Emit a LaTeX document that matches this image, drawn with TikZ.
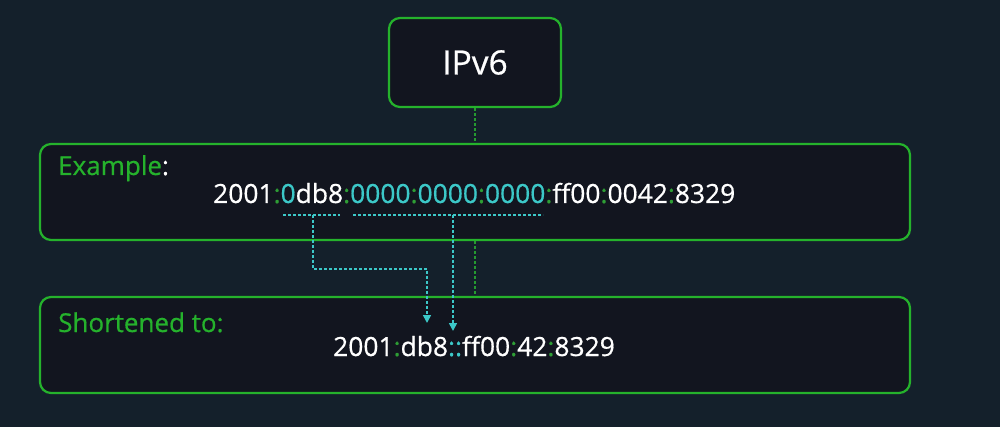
\documentclass[tikz,border=0pt]{standalone}
\usepackage{fontspec}
\setmainfont[FakeBold=0.6]{Open Sans}
\usetikzlibrary{arrows.meta}
\definecolor{bg}{HTML}{14202B}
\definecolor{boxfill}{HTML}{12151F}
\definecolor{grn}{HTML}{25B22C}
\definecolor{cyn}{HTML}{3CC8C8}
\definecolor{colgrn}{HTML}{2E9E35}
\definecolor{linkgrn}{HTML}{259A30}
\newcommand{\gc}{\textcolor{colgrn}{:}}
\newcommand{\cy}[1]{\textcolor{cyn}{#1}}
\begin{document}
\begin{tikzpicture}[x=1pt,y=-1pt,
  box/.style={draw=grn, line width=2.2pt, fill=boxfill, rounded corners=11pt, inner sep=0pt},
  lbl/.style={text=grn, anchor=base west, inner sep=0pt, font=\fontsize{26}{30}\selectfont},
  addr/.style={text=white, anchor=base west, inner sep=0pt, font=\fontsize{26.4}{30}\selectfont},
  link/.style={draw=linkgrn, line width=1.6pt, dash pattern=on 3pt off 2pt},
  cyline/.style={draw=cyn, line width=1.6pt, dash pattern=on 3pt off 2pt},
  arr/.style={cyline, -{Triangle[length=8pt,width=8pt]}}]
\fill[bg] (0,0) rectangle (1000,427);
\node[box, minimum width=172pt, minimum height=89pt, text=white,
  font=\fontsize{33.5}{36}\selectfont] (ipv6) at (475,62.5) {IPv6};
\node[box, minimum width=870pt, minimum height=96pt] (ex) at (475,192) {};
\node[box, minimum width=870pt, minimum height=96pt] (sh) at (475,345) {};
\draw[link] (ipv6.south) -- (ex.north);
\draw[link] (ex.south) -- (sh.north);
\node[lbl] (exl) at (58,175) {Example\textcolor{white}{:}};
\node[lbl] (shl) at (58,332) {Shortened to:};
\node[addr] (exa) at (213,203) {2001\gc\cy{0}db8\gc\cy{0000}\gc\cy{0000}\gc\cy{0000}\gc ff00\gc 0042\gc 8329};
\node[addr] (sha) at (333,356) {2001\gc db8\cy{::}ff00\gc 42\gc 8329};
\coordinate (u1a) at (283,215);
\coordinate (u1b) at (340,215);
\coordinate (u2a) at (353,215);
\coordinate (u2b) at (543,215);
\coordinate (t1) at (313,215);
\coordinate (t2) at (453,215);
\coordinate (e1) at (427,323);
\coordinate (e2) at (453,331);
\draw[cyline] (u1a) -- (u1b);
\draw[cyline] (u2a) -- (u2b);
\draw[arr] (t1) |- (427,269) -- (e1);
\draw[arr] (t2) -- (e2);
\end{tikzpicture}
\end{document}
